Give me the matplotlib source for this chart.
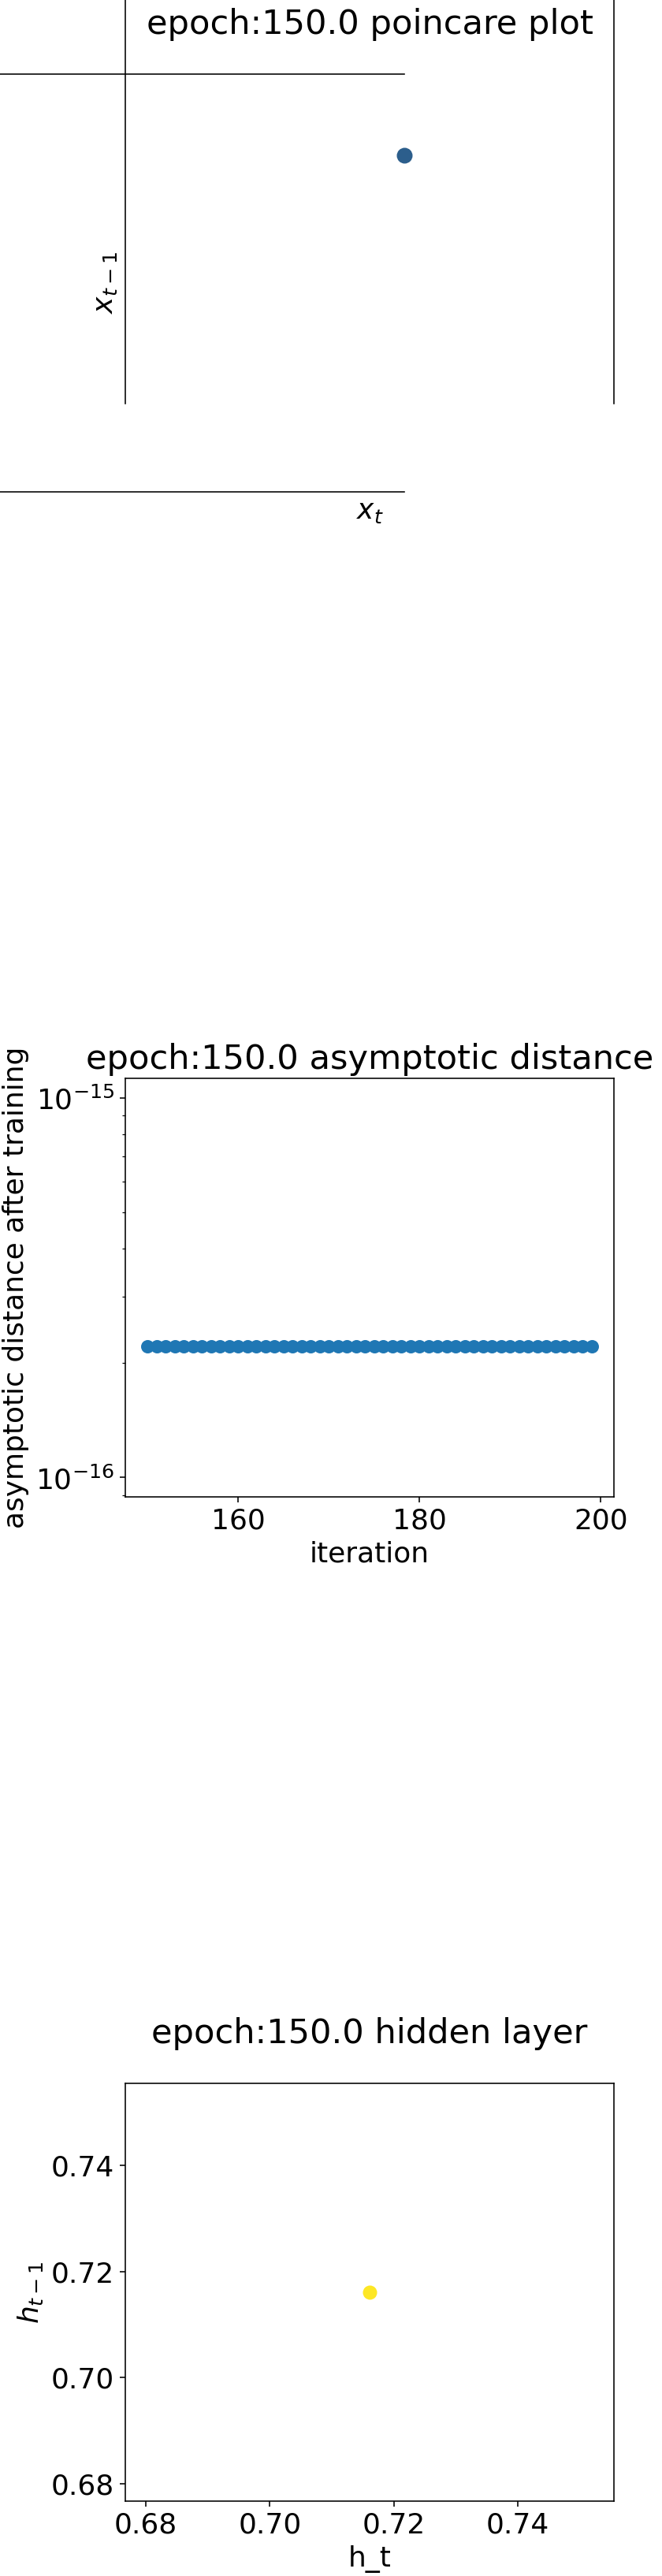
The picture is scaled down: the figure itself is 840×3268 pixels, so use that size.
import matplotlib
matplotlib.use("Agg")
import matplotlib.pyplot as plt

# poincare point of the output after training (x_t, x_{t-1})
x_t = [0.7161]
x_t_prev = [0.7161]

# asymptotic distance per iteration after training
iterations = [150, 151, 152, 153, 154, 155, 156, 157, 158, 159,
              160, 161, 162, 163, 164, 165, 166, 167, 168, 169,
              170, 171, 172, 173, 174, 175, 176, 177, 178, 179,
              180, 181, 182, 183, 184, 185, 186, 187, 188, 189,
              190, 191, 192, 193, 194, 195, 196, 197, 198, 199]
asym_dist = [2.220446e-16, 2.220446e-16, 2.220446e-16, 2.220446e-16, 2.220446e-16,
             2.220446e-16, 2.220446e-16, 2.220446e-16, 2.220446e-16, 2.220446e-16,
             2.220446e-16, 2.220446e-16, 2.220446e-16, 2.220446e-16, 2.220446e-16,
             2.220446e-16, 2.220446e-16, 2.220446e-16, 2.220446e-16, 2.220446e-16,
             2.220446e-16, 2.220446e-16, 2.220446e-16, 2.220446e-16, 2.220446e-16,
             2.220446e-16, 2.220446e-16, 2.220446e-16, 2.220446e-16, 2.220446e-16,
             2.220446e-16, 2.220446e-16, 2.220446e-16, 2.220446e-16, 2.220446e-16,
             2.220446e-16, 2.220446e-16, 2.220446e-16, 2.220446e-16, 2.220446e-16,
             2.220446e-16, 2.220446e-16, 2.220446e-16, 2.220446e-16, 2.220446e-16,
             2.220446e-16, 2.220446e-16, 2.220446e-16, 2.220446e-16, 2.220446e-16]

# hidden layer state (h_t, h_{t-1})
h_t = [0.7161]
h_t_prev = [0.7161]

epoch = 150.0

plt.rcParams['font.size'] = 18

fig, axs = plt.subplots(3, 1, figsize=(840 / 144, 3268 / 144), dpi=144)
fig.subplots_adjust(left=0.1893, right=0.9274, top=0.97124, bottom=0.02907,
                    hspace=1.4038)

# --- poincare plot ---
ax = axs[0]
ax.scatter(x_t, x_t_prev, s=81, color='#2c5e8c')
sx, sy = 0.1, 0.1
ax.set_xlim(x_t[0] - 0.5706 * sx, x_t[0] + 0.4294 * sx)
ax.set_ylim(x_t_prev[0] - 0.806 * sy, x_t_prev[0] + 0.194 * sy)
# spines with shifted bounds, as in the original figure
ax.spines['top'].set_bounds(x_t[0] - sx, x_t[0])
ax.spines['bottom'].set_bounds(x_t[0] - sx, x_t[0])
y0, y1 = ax.get_ylim()
ax.spines['left'].set_bounds(y0 + 0.211 * sy, y1 + 0.211 * sy)
ax.spines['right'].set_bounds(y0 + 0.211 * sy, y1 + 0.211 * sy)
ax.set_xticks([])
ax.set_yticks([])
ax.set_xlabel('$x_t$')
ax.set_ylabel('$x_{t-1}$')
ax.set_title('epoch:' + str(epoch) + ' poincare plot', y=1.073)

# --- asymptotic distance ---
ax = axs[1]
ax.scatter(iterations, asym_dist, s=56, color='#1f77b4')
ax.set_yscale('log')
ax.set_xlabel('iteration')
ax.set_ylabel('asymptotic distance after training')
ax.set_title('epoch:' + str(epoch) + ' asymptotic distance')

# --- hidden layer ---
ax = axs[2]
ax.scatter(h_t, h_t_prev, s=64, color='#fde725')
ax.set_xlabel('h_t')
ax.set_ylabel('$h_{t-1}$')
ax.set_title('epoch:' + str(epoch) + ' hidden layer', y=1.073)

fig.savefig('out.png', dpi=144)
